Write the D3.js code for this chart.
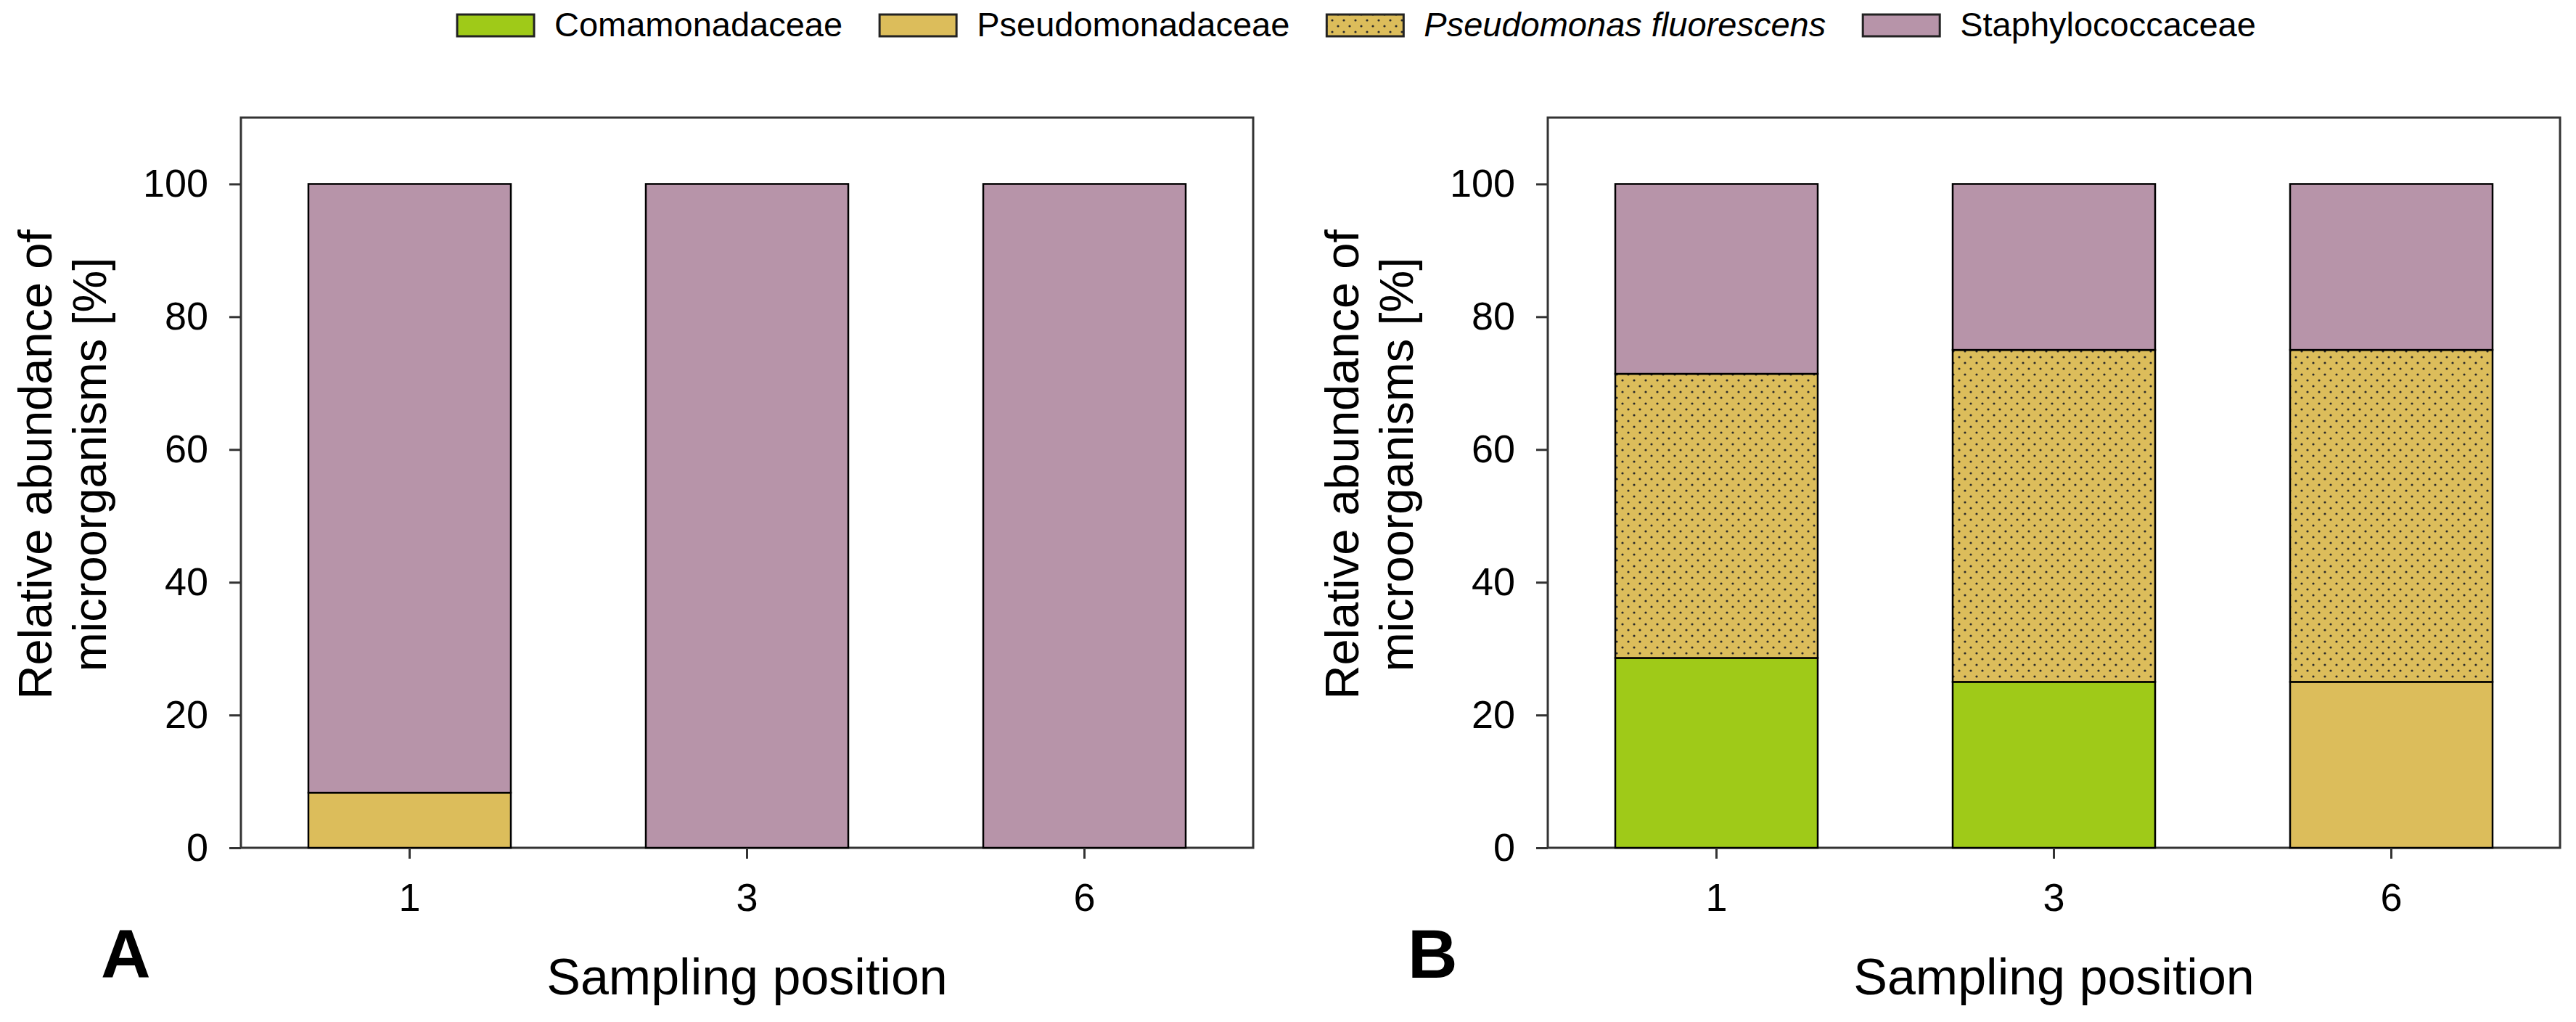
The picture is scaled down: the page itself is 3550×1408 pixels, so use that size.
<!DOCTYPE html>
<html>
<head>
  <meta charset="utf-8">
  <script src="https://d3js.org/d3.v7.min.js"></script>
  <style>
    body { margin: 0; background: #fff; }
    text { font-family: 'Liberation Sans', Arial, sans-serif; fill: #000; }
  </style>
</head>
<body>
  <div id="chart"></div>
  <script>
    // sampling positions on the x axis
    const positions = ["1", "3", "6"];
    const taxa = ["Comamonadaceae", "Pseudomonadaceae", "Pseudomonas fluorescens", "Staphylococcaceae"];
    const yTicks = [0, 20, 40, 60, 80, 100];

    // panel A, relative abundance [%]
    const comamonadaceaeA = [0, 0, 0];
    const pseudomonadaceaeA = [8.3, 0, 0];
    const fluorescensA = [0, 0, 0];
    const staphylococcaceaeA = [91.7, 100, 100];

    // panel B
    const comamonadaceaeB = [28.6, 25, 0];
    const pseudomonadaceaeB = [0, 0, 25];
    const fluorescensB = [42.8, 50, 50];
    const staphylococcaceaeB = [28.6, 25, 25];

    const colors = {
      "Comamonadaceae": "#9fca18",
      "Pseudomonadaceae": "#dcbd5b",
      "Pseudomonas fluorescens": "url(#dots)",
      "Staphylococcaceae": "#b794a9"
    };

    const W = 3550, H = 1408;
    const svg = d3.select("#chart").append("svg")
      .attr("width", W)
      .attr("height", H);

    // dotted fill for P. fluorescens
    const pat = svg.append("defs").append("pattern")
      .attr("id", "dots")
      .attr("patternUnits", "userSpaceOnUse")
      .attr("width", 16)
      .attr("height", 16);
    pat.append("rect").attr("width", 16).attr("height", 16).attr("fill", "#dcbd5b");
    pat.append("circle").attr("cx", 4).attr("cy", 4).attr("r", 1.6).attr("fill", "#2a2a2a");
    pat.append("circle").attr("cx", 12).attr("cy", 12).attr("r", 1.6).attr("fill", "#2a2a2a");

    const plotTop = 162, plotBottom = 1168, plotW = 1395;

    const y = d3.scaleLinear().domain([0, 110]).range([plotBottom, plotTop]);

    function drawPanel(left, label, series) {
      const x = d3.scaleBand()
        .domain(positions)
        .range([left, left + plotW])
        .paddingInner(0.4)
        .paddingOuter(0.2);

      const rows = positions.map((p, i) => {
        const r = { pos: p };
        taxa.forEach((t, k) => r[t] = series[k][i]);
        return r;
      });
      const stacked = d3.stack().keys(taxa)(rows);

      const g = svg.append("g");

      // frame
      g.append("rect")
        .attr("x", left)
        .attr("y", plotTop)
        .attr("width", plotW)
        .attr("height", plotBottom - plotTop)
        .attr("fill", "none")
        .attr("stroke", "#333")
        .attr("stroke-width", 3);

      stacked.forEach(layer => {
        g.append("g")
          .selectAll("rect")
          .data(layer.filter(d => d[1] - d[0] > 0))
          .enter()
          .append("rect")
          .attr("x", d => x(d.data.pos))
          .attr("width", x.bandwidth())
          .attr("y", d => y(d[1]))
          .attr("height", d => y(d[0]) - y(d[1]))
          .attr("fill", colors[layer.key])
          .attr("stroke", "#000")
          .attr("stroke-width", 2.5);
      });

      // y axis
      const yAxis = g.append("g")
        .attr("transform", `translate(${left},0)`)
        .call(d3.axisLeft(y).tickValues(yTicks).tickSize(16).tickPadding(29));
      yAxis.select(".domain").remove();
      yAxis.selectAll("line").attr("stroke", "#333").attr("stroke-width", 3);
      yAxis.selectAll("text")
        .style("font-family", "'Liberation Sans', Arial, sans-serif")
        .style("font-size", "54px")
        .attr("fill", "#000");

      // x axis
      const xAxis = g.append("g")
        .attr("transform", `translate(0,${plotBottom})`)
        .call(d3.axisBottom(x).tickSize(15).tickPadding(34));
      xAxis.select(".domain").remove();
      xAxis.selectAll("line").attr("stroke", "#333").attr("stroke-width", 3);
      xAxis.selectAll("text")
        .style("font-family", "'Liberation Sans', Arial, sans-serif")
        .style("font-size", "54px")
        .attr("fill", "#000");

      // axis titles
      g.append("text")
        .attr("transform", `translate(${left - 261},640) rotate(-90)`)
        .attr("text-anchor", "middle")
        .style("font-size", "65px")
        .text("Relative abundance of");
      g.append("text")
        .attr("transform", `translate(${left - 186},640) rotate(-90)`)
        .attr("text-anchor", "middle")
        .style("font-size", "65px")
        .text("microorganisms [%]");

      g.append("text")
        .attr("x", left + plotW / 2)
        .attr("y", 1370)
        .attr("text-anchor", "middle")
        .style("font-size", "70px")
        .text("Sampling position");

      g.append("text")
        .attr("x", left - 193)
        .attr("y", 1347)
        .style("font-size", "95px")
        .style("font-weight", "bold")
        .text(label);
    }

    drawPanel(332, "A", [comamonadaceaeA, pseudomonadaceaeA, fluorescensA, staphylococcaceaeA]);
    drawPanel(2133, "B", [comamonadaceaeB, pseudomonadaceaeB, fluorescensB, staphylococcaceaeB]);

    // legend across the top
    const legend = svg.append("g");
    let lx = 630;
    taxa.forEach(t => {
      legend.append("rect")
        .attr("x", lx)
        .attr("y", 20)
        .attr("width", 106)
        .attr("height", 30)
        .attr("fill", colors[t])
        .attr("stroke", "#222")
        .attr("stroke-width", 3);
      const txt = legend.append("text")
        .attr("x", lx + 134)
        .attr("y", 50)
        .style("font-size", "47px")
        .style("font-style", t === "Pseudomonas fluorescens" ? "italic" : "normal")
        .text(t);
      lx += 134 + txt.node().getComputedTextLength() + 51;
    });
  </script>
</body>
</html>
